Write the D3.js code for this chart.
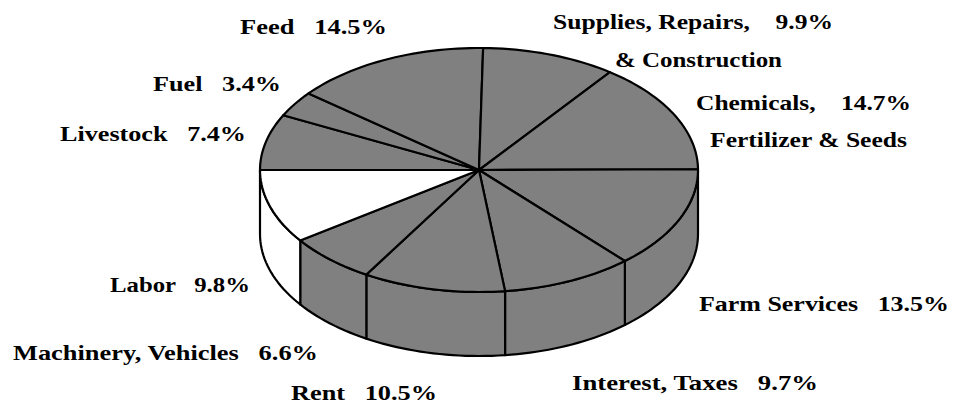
<!DOCTYPE html>
<html>
<head>
<meta charset="utf-8">
<script src="https://cdn.jsdelivr.net/npm/d3@7"></script>
<style>
  body { margin: 0; background: #fff; }
  text { font-family: "Liberation Serif", "Times New Roman", Times, serif; font-weight: bold; font-size: 21px; white-space: pre; }
</style>
</head>
<body>
<svg id="chart"></svg>
<script>
// Data (clockwise from the left edge of the pie)
const categories = ["Livestock", "Fuel", "Feed", "Supplies, Repairs, & Construction",
  "Chemicals, Fertilizer & Seeds", "Farm Services", "Interest, Taxes", "Rent",
  "Machinery, Vehicles", "Labor"];
const shares = [7.4, 3.4, 14.5, 9.9, 14.7, 13.5, 9.7, 10.5, 6.6, 9.8];
const highlighted = ["Labor"];

// Label text lines and placement
const labelLines = [
  ["Livestock"], ["Fuel"], ["Feed"], ["Supplies, Repairs,", "& Construction"],
  ["Chemicals,", "Fertilizer & Seeds"], ["Farm Services"], ["Interest, Taxes"],
  ["Rent"], ["Machinery, Vehicles"], ["Labor"]
];
const labelGap = ["   ", "   ", "   ", "    ", "    ", "   ", "   ", "   ", "   ", "   "];
const labelPos = [
  [{x: 60, y: 141, w: 186}],
  [{x: 153, y: 91, w: 128}],
  [{x: 240, y: 34, w: 147}],
  [{x: 553, y: 29, w: 280}, {x: 615, y: 67, w: 167}],
  [{x: 696, y: 110, w: 215}, {x: 710, y: 147, w: 197}],
  [{x: 699, y: 311, w: 250}],
  [{x: 572, y: 390, w: 246}],
  [{x: 291, y: 400, w: 146}],
  [{x: 13, y: 360, w: 305}],
  [{x: 110, y: 292, w: 140}]
];

const width = 953, height = 404;
const cx = 479, cy = 170, rx = 219, ry = 122, depth = 64;

const svg = d3.select("#chart").attr("width", width).attr("height", height);

// unit circle -> squashed ellipse
const xScale = d3.scaleLinear().domain([-1, 1]).range([cx - rx, cx + rx]);
const yScale = d3.scaleLinear().domain([-1, 1]).range([cy - ry, cy + ry]);
const px = a => xScale(Math.sin(a));
const py = a => yScale(-Math.cos(a));

const data = categories.map((c, i) => ({ name: c, value: shares[i], i: i }));
const pie = d3.pie().sort(null).value(d => d.value)
  .startAngle(-Math.PI / 2).endAngle(3 * Math.PI / 2);
const arcs = pie(data);

const fillOf = d => highlighted.includes(d.data.name) ? "#ffffff" : "#808080";

function arcPoints(a0, a1, dy) {
  const n = Math.max(2, Math.ceil(Math.abs(a1 - a0) / 0.03));
  return d3.range(n + 1).map(k => {
    const a = a0 + (a1 - a0) * k / n;
    return [px(a), py(a) + dy];
  });
}

// side walls (front half only)
const walls = svg.append("g");
arcs.forEach(d => {
  const a0 = Math.max(d.startAngle, Math.PI / 2);
  const a1 = Math.min(d.endAngle, 3 * Math.PI / 2);
  if (a1 - a0 < 0.01) return;
  const pts = arcPoints(a0, a1, 0).concat(arcPoints(a1, a0, depth));
  walls.append("path")
    .attr("d", d3.line()(pts) + "Z")
    .attr("fill", fillOf(d))
    .attr("stroke", "#000")
    .attr("stroke-width", 2.2)
    .attr("stroke-linejoin", "round");
});

// top faces
const tops = svg.append("g");
arcs.forEach(d => {
  const pts = [[cx, cy]].concat(arcPoints(d.startAngle, d.endAngle, 0));
  tops.append("path")
    .attr("d", d3.line()(pts) + "Z")
    .attr("fill", fillOf(d))
    .attr("stroke", "#000")
    .attr("stroke-width", 2.2)
    .attr("stroke-linejoin", "round");
});

// labels
const fmt = v => d3.format(".1f")(v) + "%";
const labels = svg.append("g");
data.forEach((d, i) => {
  labelLines[i].forEach((line, j) => {
    const p = labelPos[i][j];
    const txt = j === 0 ? line + labelGap[i] + fmt(d.value) : line;
    labels.append("text")
      .attr("x", p.x)
      .attr("y", p.y)
      .attr("xml:space", "preserve")
      .attr("textLength", p.w)
      .attr("lengthAdjust", "spacingAndGlyphs")
      .text(txt);
  });
});
</script>
</body>
</html>
